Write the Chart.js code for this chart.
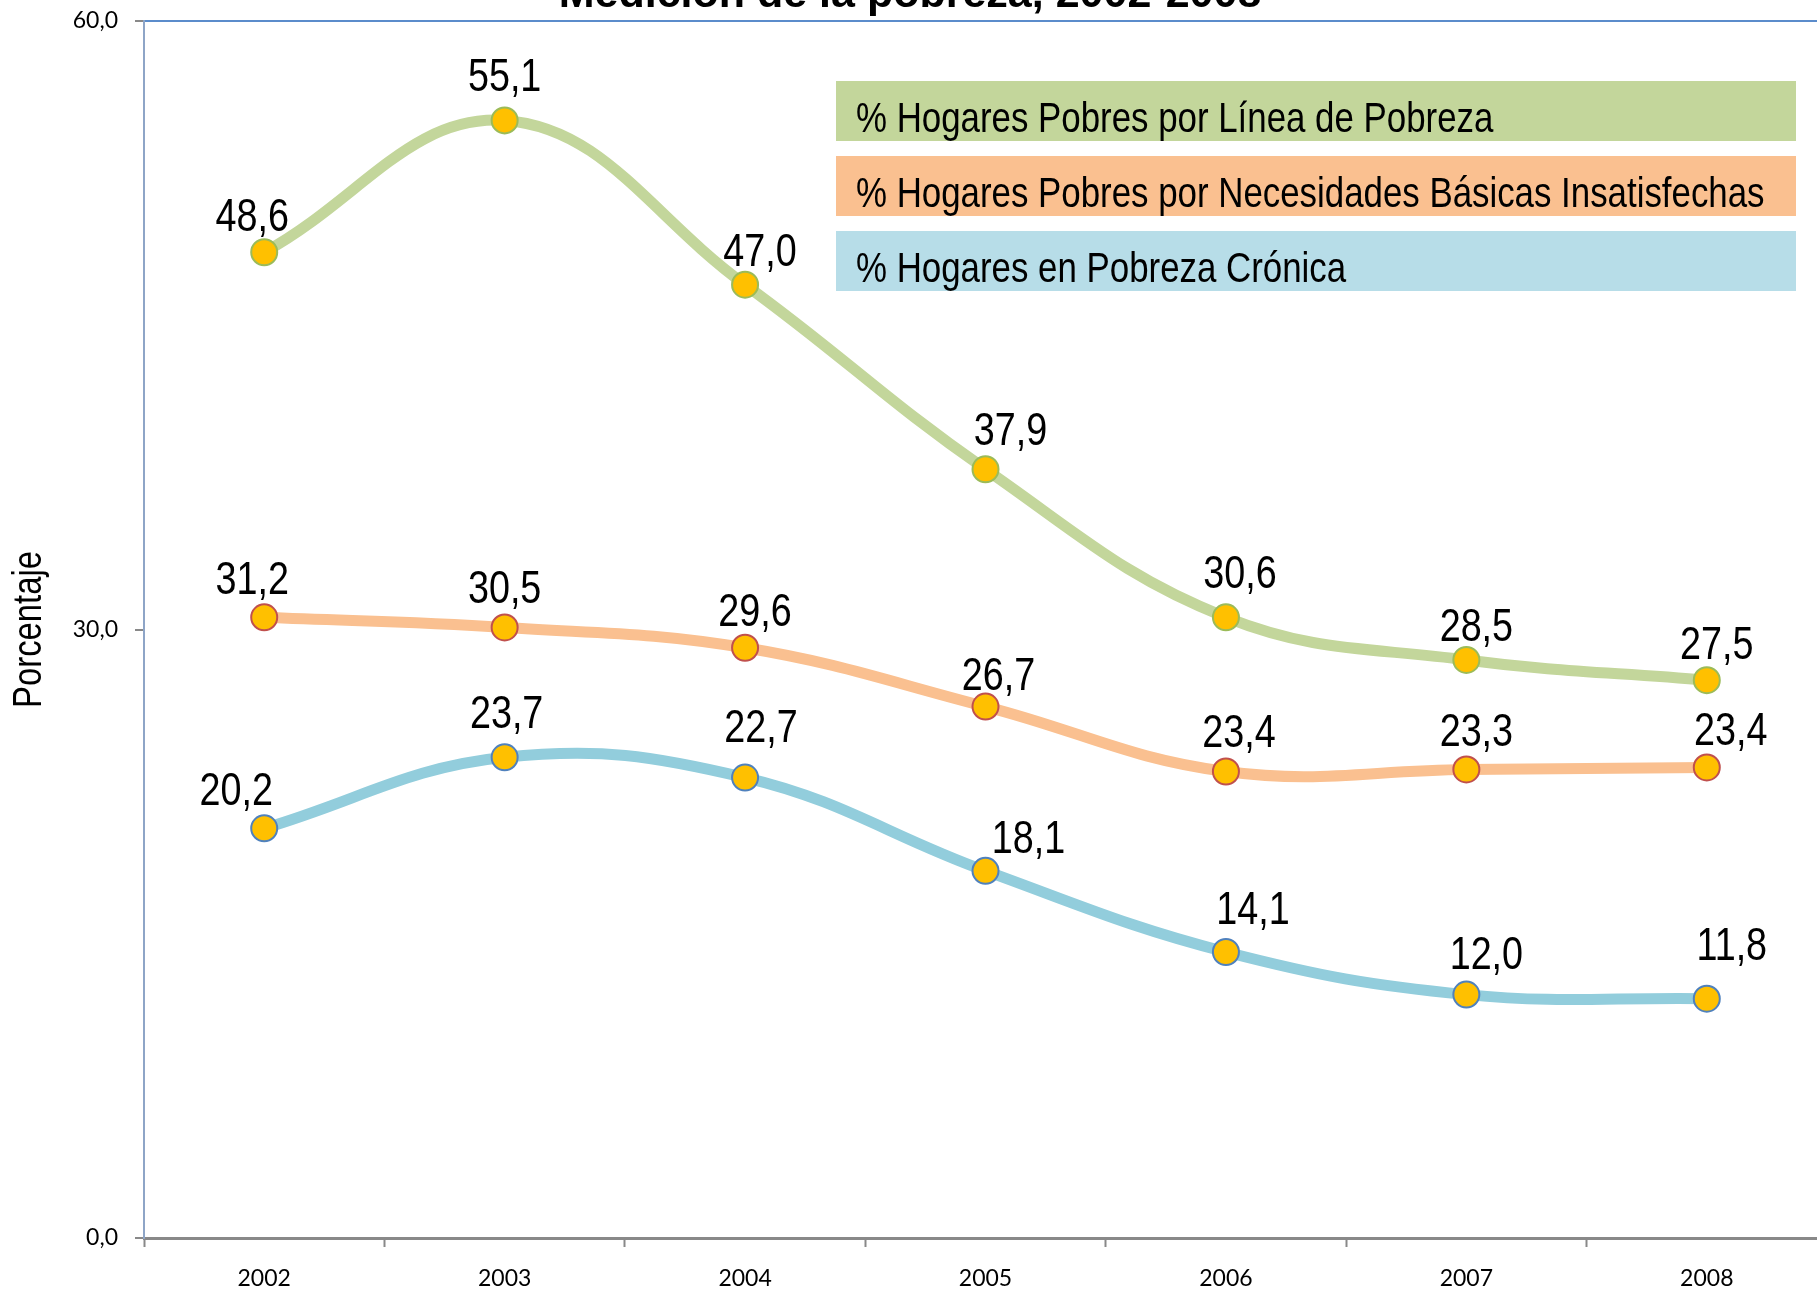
<!DOCTYPE html>
<html>
<head>
<meta charset="utf-8">
<script src="https://cdn.jsdelivr.net/npm/chart.js@4.4.1/dist/chart.umd.min.js"></script>
<style>
  html, body { margin: 0; padding: 0; background: #fff; overflow: hidden; }
  canvas { display: block; }
</style>
</head>
<body>
<canvas id="povertyChart" width="1830" height="1295"></canvas>
<script>
// data
const years = ['2002', '2003', '2004', '2005', '2006', '2007', '2008'];
const lineaPobreza = [48.6, 55.1, 47.0, 37.9, 30.6, 28.5, 27.5];
// the orange points sit a bit below their printed labels in the original
const necesidadesBasicas = [30.6, 30.1, 29.1, 26.2, 23.0, 23.1, 23.2];
const necesidadesEtiquetas = ['31,2', '30,5', '29,6', '26,7', '23,4', '23,3', '23,4'];
const pobrezaCronica = [20.2, 23.7, 22.7, 18.1, 14.1, 12.0, 11.8];
const yTickValues = [0, 30, 60];

const seriesNames = [
  '% Hogares Pobres por Línea de Pobreza',
  '% Hogares Pobres por Necesidades Básicas Insatisfechas',
  '% Hogares en Pobreza Crónica'
];

// where each value label sits relative to its point (px)
const labelOffsets = [
  { dx: [-12, 0, 15, 25, 14, 10, 10], dy: [-34, -42, -31, -37, -42, -32, -34] },
  { dx: [-12, 0, 10, 13, 13, 10, 24], dy: [-36, -37, -34, -29, -37, -36, -35] },
  { dx: [-28, 2, 16, 43, 27, 20, 25], dy: [-36, -42, -48, -31, -41, -38, -51] }
];
const bandColors = ['#c3d69b', '#fac090', '#b7dde8'];

// no Arial Narrow here, so squeeze Liberation Sans instead
const SQUEEZE = 0.82;
const sans = '"Liberation Sans", Arial, sans-serif';

function fmt(v) {
  return v.toFixed(1).replace('.', ',');
}

function narrowText(ctx, text, x, y, size, align) {
  ctx.save();
  ctx.translate(x, y);
  ctx.scale(SQUEEZE, 1);
  ctx.font = size + 'px ' + sans;
  ctx.textAlign = align;
  ctx.fillText(text, 0, 0);
  ctx.restore();
}

// value labels above the points
const valueLabels = {
  id: 'valueLabels',
  afterDatasetsDraw(chart) {
    const ctx = chart.ctx;
    ctx.save();
    ctx.fillStyle = '#000';
    ctx.textBaseline = 'middle';
    chart.data.datasets.forEach((ds, i) => {
      const meta = chart.getDatasetMeta(i);
      meta.data.forEach((pt, j) => {
        const off = labelOffsets[i];
        const text = ds.printed ? ds.printed[j] : fmt(ds.data[j]);
        narrowText(ctx, text, pt.x + off.dx[j], pt.y + off.dy[j], 46, 'center');
      });
    });
    ctx.restore();
  }
};

// legend drawn as coloured bands, plus the y title and the cut off chart title
const extras = {
  id: 'extras',
  afterDraw(chart) {
    const ctx = chart.ctx;
    ctx.save();
    const tops = [81, 156, 231];
    chart.data.datasets.forEach((ds, i) => {
      ctx.fillStyle = bandColors[i];
      ctx.fillRect(836, tops[i], 960, 60);
      ctx.fillStyle = '#000';
      ctx.textBaseline = 'alphabetic';
      narrowText(ctx, ds.label, 856, tops[i] + 51, 42.5, 'left');
    });

    // y axis title
    ctx.save();
    ctx.translate(30, (chart.chartArea.top + chart.chartArea.bottom) / 2);
    ctx.rotate(-Math.PI / 2);
    ctx.fillStyle = '#000';
    ctx.textBaseline = 'middle';
    narrowText(ctx, 'Porcentaje', 0, 0, 40, 'center');
    ctx.restore();

    ctx.font = 'bold 43px ' + sans;
    ctx.fillStyle = '#000';
    ctx.textAlign = 'center';
    ctx.textBaseline = 'alphabetic';
    ctx.fillText('Medición de la pobreza, 2002-2008', 910, 7);
    ctx.restore();
  }
};

function series(label, data, line, edge) {
  return {
    label: label,
    data: data,
    borderColor: line,
    borderWidth: 11,
    tension: 0.4,
    pointRadius: 13,
    pointBorderWidth: 2,
    pointBackgroundColor: '#ffc000',
    pointBorderColor: edge,
    fill: false,
    clip: false
  };
}

const nbi = series(seriesNames[1], necesidadesBasicas, '#fac090', '#c0504d');
nbi.printed = necesidadesEtiquetas;

const ctx = document.getElementById('povertyChart').getContext('2d');
new Chart(ctx, {
  type: 'line',
  data: {
    labels: years,
    datasets: [
      series(seriesNames[0], lineaPobreza, '#c3d69b', '#9bbb59'),
      nbi,
      series(seriesNames[2], pobrezaCronica, '#92cddc', '#4f81bd')
    ]
  },
  options: {
    responsive: false,
    animation: false,
    layout: { autoPadding: false, padding: { top: 21, right: 3, left: 0, bottom: 0 } },
    plugins: {
      legend: { display: false },
      title: { display: false },
      tooltip: { enabled: false }
    },
    scales: {
      x: {
        offset: true,
        grid: {
          offset: true,
          drawOnChartArea: false,
          tickLength: 9,
          tickColor: '#898989',
          tickWidth: 2
        },
        border: { color: '#898989', width: 3 },
        ticks: {
          color: '#000',
          padding: 18,
          font: { family: 'Lato', size: 23 }
        },
        afterFit(scale) { scale.height = 57; }
      },
      y: {
        min: 0,
        max: 60,
        afterBuildTicks(scale) {
          scale.ticks = yTickValues.map(v => ({ value: v }));
        },
        grid: {
          color: c => (c.tick && c.tick.value === 60) ? '#5b8ccb' : 'rgba(0,0,0,0)',
          lineWidth: 2,
          tickLength: 9,
          tickColor: '#898989',
          tickWidth: 2
        },
        border: { color: '#8ea5c7', width: 2 },
        ticks: {
          color: '#000',
          padding: 17,
          font: { family: 'Lato', size: 23 },
          callback: v => fmt(v)
        },
        afterFit(scale) {
          scale.width = 144;
          scale.paddingTop = 0;
          scale.paddingBottom = 0;
        }
      }
    }
  },
  plugins: [valueLabels, extras]
});
</script>
</body>
</html>
